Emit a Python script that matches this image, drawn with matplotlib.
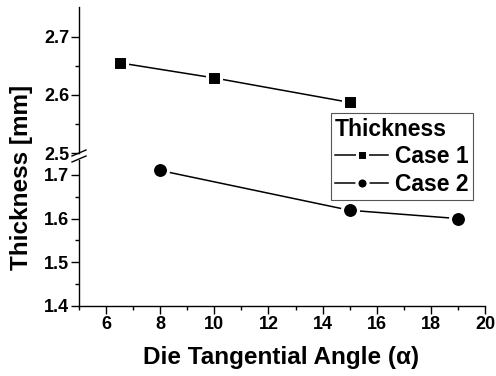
import numpy as np
import matplotlib
matplotlib.use('Agg')
import matplotlib.pyplot as plt
from matplotlib.lines import Line2D

plt.rcParams['font.family'] = ['Liberation Sans', 'DejaVu Sans']
plt.rcParams['font.weight'] = 'bold'

# data
case1_angle = [6.5, 10, 15]
case1_thick = [2.655, 2.629, 2.587]
case2_angle = [8, 15, 19]
case2_thick = [1.71, 1.619, 1.600]

x_ticks = [6, 8, 10, 12, 14, 16, 18, 20]
top_ticks = [2.5, 2.6, 2.7]
bot_ticks = [1.4, 1.5, 1.6, 1.7]

fig = plt.figure(figsize=(4.96, 3.76), dpi=100)
W, H = 496, 376
left, right = 79, 485
ax_top = fig.add_axes([left / W, 1 - 153 / H, (right - left) / W, (153 - 7) / H])
ax_bot = fig.add_axes([left / W, 1 - 306 / H, (right - left) / W, (306 - 160) / H])

line_kw = dict(color='black', lw=1.1, mfc='black', mec='white', mew=2.2)
ax_top.plot(case1_angle, case1_thick, marker='s', ms=9.5, label='Case 1', **line_kw)
ax_bot.plot(case2_angle, case2_thick, marker='o', ms=11.5, label='Case 2', **line_kw)

tick_font = dict(fontsize=13, fontweight='bold')
for ax in (ax_top, ax_bot):
    ax.set_xlim(5, 20)
    ax.spines['top'].set_visible(False)
    ax.spines['right'].set_visible(False)
    for s in ('left', 'bottom'):
        ax.spines[s].set_linewidth(1.0)
    ax.tick_params(direction='out', length=5.5, width=1.0, pad=1.5)
    ax.tick_params(which='minor', direction='out', length=3, width=1.0)
    ax.set_facecolor('none')

ax_top.set_ylim(2.5, 2.751)
ax_top.set_yticks(top_ticks)
ax_top.set_yticklabels([f'{v:.1f}' for v in top_ticks], **tick_font)
ax_top.set_yticks([2.55, 2.65], minor=True)
ax_top.spines['bottom'].set_visible(False)
ax_top.tick_params(axis='x', which='both', bottom=False, labelbottom=False)

ax_bot.set_ylim(1.4, 1.734)
ax_bot.set_yticks(bot_ticks)
ax_bot.set_yticklabels([f'{v:.1f}' for v in bot_ticks], **tick_font)
ax_bot.set_yticks([1.45, 1.55, 1.65], minor=True)
ax_bot.set_xticks(x_ticks)
ax_bot.set_xticklabels([str(v) for v in x_ticks], **tick_font)
ax_bot.set_xticks(np.arange(5, 20, 2), minor=True)

# break marks on the y axis
for yb in (153, 159):
    fig.add_artist(Line2D([(left - 7) / W, (left + 7) / W],
                          [1 - (yb + 3) / H, 1 - (yb - 3) / H],
                          color='black', lw=1.0))

fig.text(22 / W, 1 - 177 / H, 'Thickness [mm]', rotation=90, ha='center', va='center',
         fontsize=17.5, fontweight='bold')
fig.text(281 / W, 1 - 364 / H, 'Die Tangential Angle (α)', ha='center', va='baseline',
         fontsize=17.5, fontweight='bold')

handles = [ax_top.get_lines()[0], ax_bot.get_lines()[0]]
leg = fig.legend(handles, ['Case 1', 'Case 2'], title='Thickness', loc='upper right',
                 bbox_to_anchor=(473 / W, 1 - 113 / H), frameon=True, fancybox=False,
                 edgecolor='#555555', framealpha=1, alignment='left',
                 prop={'size': 16.5, 'weight': 'bold'}, handlelength=2.3,
                 handletextpad=0.3, borderpad=0.2, labelspacing=0.2,
                 borderaxespad=0, markerscale=0.7)
leg.get_title().set_fontsize(16.5)
leg.get_title().set_fontweight('bold')
leg.get_frame().set_linewidth(0.8)

fig.savefig('out.png', dpi=100)
